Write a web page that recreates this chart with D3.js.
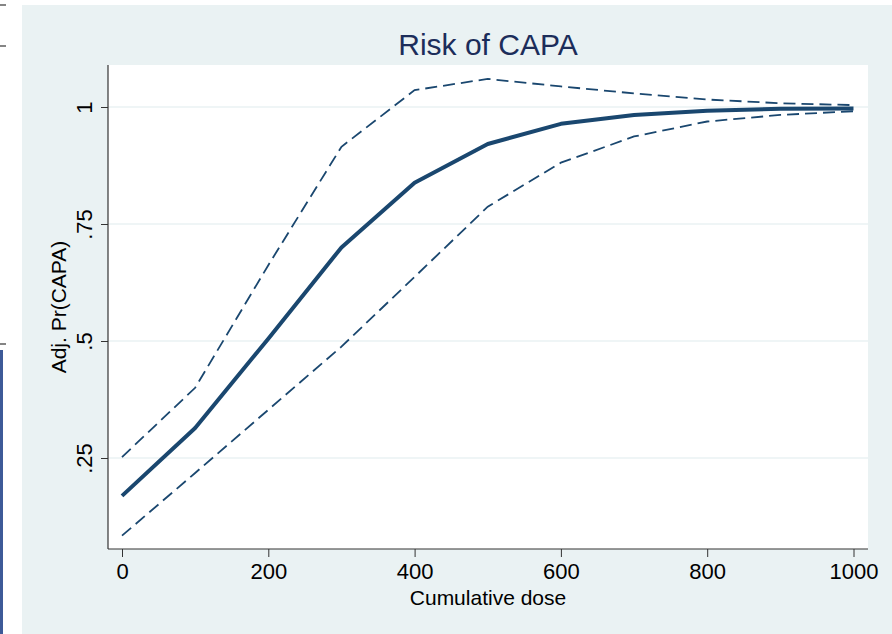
<!DOCTYPE html>
<html>
<head>
<meta charset="utf-8">
<script src="https://cdn.jsdelivr.net/npm/d3@7"></script>
<style>
  body { margin: 0; background: #fff; }
  svg { display: block; font-family: "Liberation Sans", Arial, sans-serif; }
</style>
</head>
<body>
<div id="chart"></div>
<script>
// predicted probability of CAPA by cumulative dose, with 95% CI
const doses = [0, 100, 200, 300, 400, 500, 600, 700, 800, 900, 1000];
const prob = [0.169, 0.314, 0.505, 0.700, 0.838, 0.921, 0.964, 0.983, 0.992, 0.996, 0.997];
const upper = [0.252, 0.400, 0.662, 0.915, 1.036, 1.060, 1.044, 1.029, 1.016, 1.008, 1.004];
const lower = [0.084, 0.218, 0.353, 0.488, 0.637, 0.787, 0.881, 0.937, 0.969, 0.983, 0.991];
const xTicks = [0, 200, 400, 600, 800, 1000];
const yTicks = [0.25, 0.5, 0.75, 1];
const yTickLabels = [".25", ".5", ".75", "1"];

const width = 892;
const height = 634;
const plot = { left: 108, right: 868, top: 65, bottom: 549 };
const navy = "#1a476f";
const panel = "#eaf2f3";

const svg = d3
  .select("#chart")
  .append("svg")
  .attr("width", width)
  .attr("height", height);

// graph region
svg.append("rect")
  .attr("x", 22).attr("y", 5)
  .attr("width", width - 22).attr("height", height - 5)
  .attr("fill", panel);

// bits of the neighbouring figure at the left edge
[5, 46, 344].forEach((yy) => {
  svg.append("line")
    .attr("x1", 0).attr("x2", 6).attr("y1", yy).attr("y2", yy)
    .attr("stroke", "#333").attr("stroke-width", 1.2);
});
svg.append("rect")
  .attr("x", 0).attr("y", 350).attr("width", 3).attr("height", height - 350)
  .attr("fill", "#3d5a98");

// plot region
svg.append("rect")
  .attr("x", plot.left).attr("y", plot.top)
  .attr("width", plot.right - plot.left).attr("height", plot.bottom - plot.top)
  .attr("fill", "#fff");

const x = d3.scaleLinear().domain([0, 1000]).range([122, 853.5]);
const y = d3.scaleLinear().domain([0.25, 1]).range([458, 107]);

// gridlines
svg.append("g")
  .selectAll("line")
  .data(yTicks)
  .join("line")
  .attr("x1", plot.left).attr("x2", plot.right)
  .attr("y1", (d) => y(d)).attr("y2", (d) => y(d))
  .attr("stroke", panel)
  .attr("stroke-width", 1.5);

// axes
const xAxis = svg.append("g")
  .attr("transform", `translate(0,${plot.bottom})`)
  .call(d3.axisBottom(x).tickValues(xTicks).tickSize(8).tickPadding(6).tickFormat(d3.format("d")));
xAxis.select(".domain").remove();
xAxis.selectAll("text")
  .attr("fill", "#000")
  .style("font-size", "22px");
xAxis.selectAll("line").attr("stroke", "#333");

const yAxis = svg.append("g")
  .attr("transform", `translate(${plot.left},0)`)
  .call(d3.axisLeft(y).tickValues(yTicks).tickSize(7).tickFormat((d, i) => yTickLabels[i]));
yAxis.select(".domain").remove();
yAxis.selectAll("line").attr("stroke", "#333");
yAxis.selectAll("text")
  .attr("fill", "#000")
  .style("font-size", "22px")
  .attr("text-anchor", "middle")
  .attr("dy", null)
  .attr("x", null)
  .attr("transform", "translate(-16,0) rotate(-90)");

// axis lines (left and bottom only)
svg.append("line")
  .attr("x1", plot.left).attr("x2", plot.left)
  .attr("y1", plot.top).attr("y2", plot.bottom)
  .attr("stroke", "#333").attr("stroke-width", 1.2);
svg.append("line")
  .attr("x1", plot.left).attr("x2", plot.right)
  .attr("y1", plot.bottom).attr("y2", plot.bottom)
  .attr("stroke", "#333").attr("stroke-width", 1.2);

// lines
const line = (vals) =>
  d3.line().x((d, i) => x(doses[i])).y((d) => y(d))(vals);

[upper, lower].forEach((vals) => {
  svg.append("path")
    .attr("d", line(vals))
    .attr("fill", "none")
    .attr("stroke", navy)
    .attr("stroke-width", 1.8)
    .attr("stroke-dasharray", "12,6");
});

svg.append("path")
  .attr("d", line(prob))
  .attr("fill", "none")
  .attr("stroke", navy)
  .attr("stroke-width", 4)
  .attr("stroke-linejoin", "round");

// titles
svg.append("text")
  .attr("x", (plot.left + plot.right) / 2)
  .attr("y", 55)
  .attr("text-anchor", "middle")
  .attr("fill", "#1c2d5a")
  .style("font-size", "30px")
  .text("Risk of CAPA");

svg.append("text")
  .attr("x", (plot.left + plot.right) / 2)
  .attr("y", 605)
  .attr("text-anchor", "middle")
  .attr("fill", "#000")
  .style("font-size", "21px")
  .text("Cumulative dose");

svg.append("text")
  .attr("transform", `translate(66,${(plot.top + plot.bottom) / 2}) rotate(-90)`)
  .attr("text-anchor", "middle")
  .attr("fill", "#000")
  .style("font-size", "21px")
  .text("Adj. Pr(CAPA)");
</script>
</body>
</html>
